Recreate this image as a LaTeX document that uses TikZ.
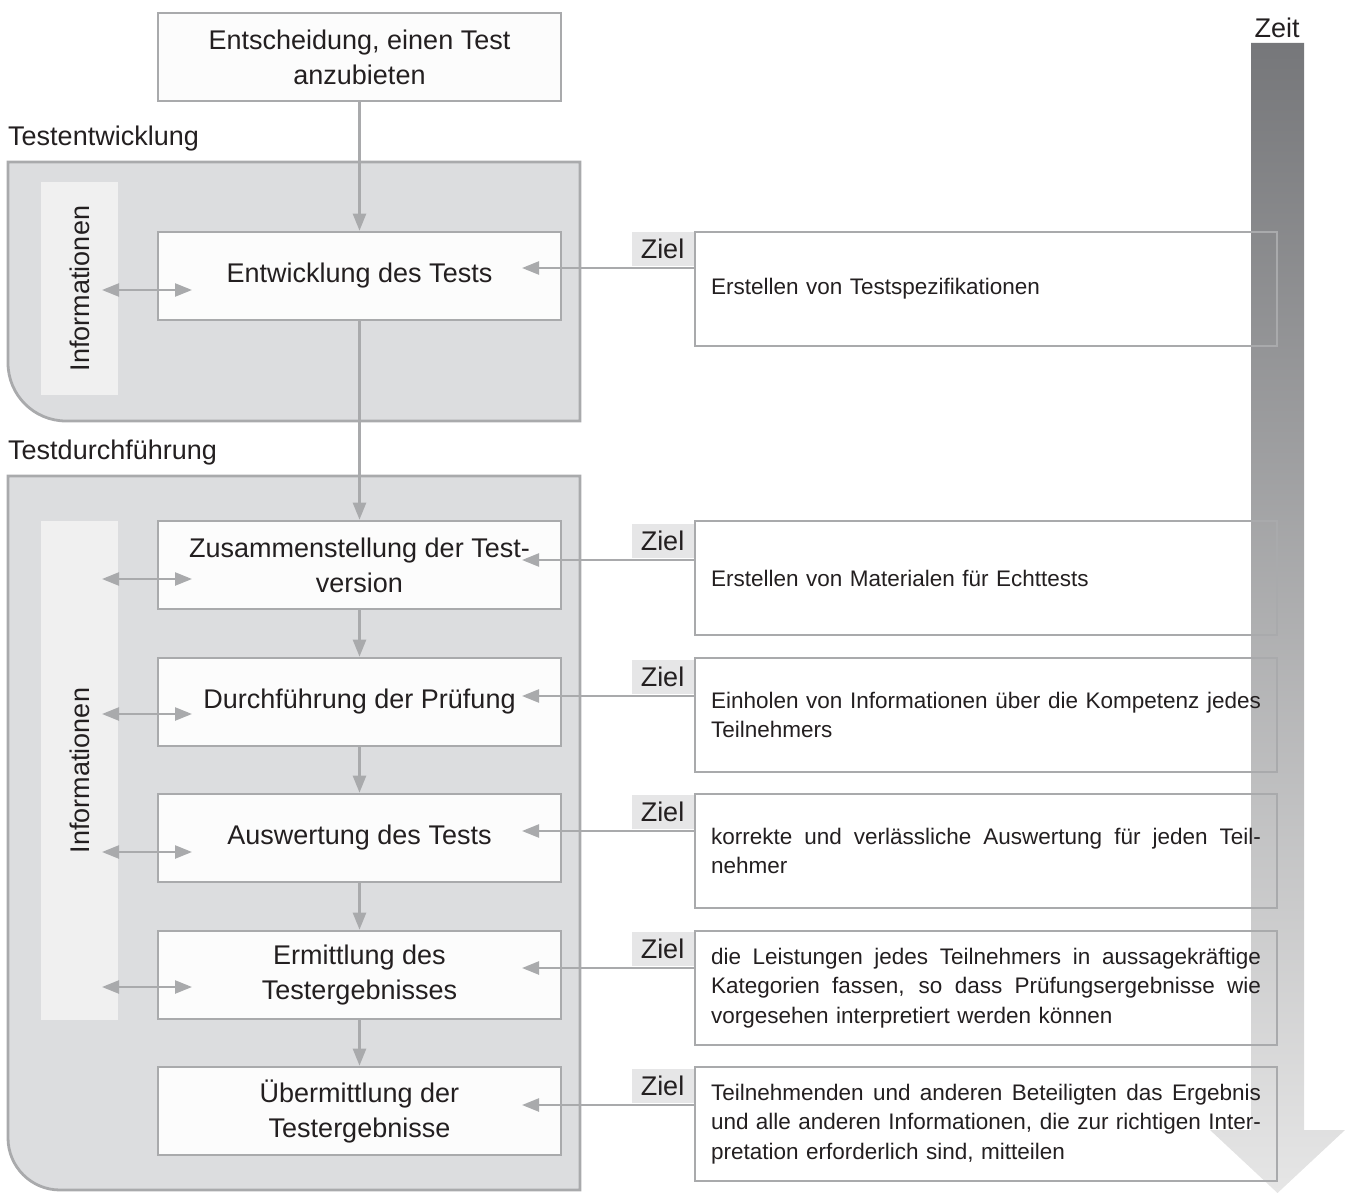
\documentclass[tikz,border=0pt]{standalone}
\usepackage{fontspec}
\setmainfont{Liberation Sans}
\usetikzlibrary{arrows.meta}
\definecolor{grpfill}{HTML}{DCDDDF}
\definecolor{lgray}{HTML}{A9AAAC}
\definecolor{infofill}{HTML}{F0F0F0}
\definecolor{boxfill}{HTML}{FCFCFC}
\definecolor{zielfill}{HTML}{E6E6E7}
\definecolor{txt}{HTML}{231F20}
\definecolor{timetop}{HTML}{76777A}
\definecolor{timebot}{HTML}{E6E6E6}
\newcommand\jl[1]{\leavevmode\hbox to 550pt{\spaceskip=0.278em plus 2em minus 0.08em\relax #1}}
\begin{document}
\begin{tikzpicture}[x=1pt,y=-1pt,
  every node/.style={text=txt},
  grpbox/.style={draw=lgray, fill=grpfill, line width=2.8pt},
  infobar/.style={fill=infofill, rotate=90, inner sep=0pt, font=\fontsize{27}{35}\selectfont},
  mainbox/.style={draw=lgray, fill=boxfill, line width=2.6pt, minimum width=403pt, minimum height=88pt, inner sep=0pt, align=center, font=\fontsize{27}{35}\selectfont},
  goalbox/.style={draw=lgray, line width=2.6pt, text width=550pt, inner xsep=16pt, inner ysep=0pt, minimum height=114pt, align=left, font=\fontsize{22.5}{29.5}\selectfont},
  zielbox/.style={fill=zielfill, minimum width=62pt, minimum height=34pt, inner sep=0pt, anchor=south east, font=\fontsize{27}{35}\selectfont},
  lbl/.style={anchor=west, inner sep=0pt, font=\fontsize{27}{35}\selectfont},
  arr/.style={draw=lgray, line width=2.4pt, -{Triangle[length=17pt,width=13pt]}},
  darr/.style={draw=lgray, line width=2.4pt, {Triangle[length=17pt,width=13pt]}-{Triangle[length=17pt,width=13pt]}}
]
\useasboundingbox (0,0) rectangle (1347,1193);

% groups
\draw[grpbox] (8,162) -- (580,162) -- (580,421) -- (66,421) arc[start angle=270,end angle=180,radius=58pt] -- cycle;
\draw[grpbox] (8,476) -- (580,476) -- (580,1190) -- (60,1190) arc[start angle=270,end angle=180,radius=52pt] -- cycle;
\node[lbl] (lab1) at (8,139) {Testentwicklung};
\node[lbl] (lab2) at (8,453) {Testdurchführung};

% info bars
\node[infobar, minimum width=213pt, minimum height=77pt] (i1) at (79.5,288.5) {Informationen};
\node[infobar, minimum width=499pt, minimum height=77pt] (i2) at (79.5,770.5) {Informationen};

% time arrow
\shade[top color=timetop, bottom color=timebot] (1251,43) -- (1304,43) -- (1304,1130) -- (1345,1130) -- (1277.5,1193) -- (1210,1130) -- (1251,1130) -- cycle;
\node[inner sep=0pt, font=\fontsize{27}{35}\selectfont] (zeit) at (1277,28) {Zeit};

% main boxes
\node[mainbox] (top) at (359.5,57) {Entscheidung, einen Test\\anzubieten};
\node[mainbox] (m1) at (359.5,276) {Entwicklung des Tests};
\node[mainbox] (m2) at (359.5,565) {Zusammenstellung der Test-\\version};
\node[mainbox] (m3) at (359.5,702) {Durchführung der Prüfung};
\node[mainbox] (m4) at (359.5,838) {Auswertung des Tests};
\node[mainbox] (m5) at (359.5,975) {Ermittlung des\\Testergebnisses};
\node[mainbox] (m6) at (359.5,1111) {Übermittlung der\\Testergebnisse};

% goal boxes
\node[goalbox] (g1) at (986,289) {Erstellen von Testspezifikationen};
\node[goalbox] (g2) at (986,578) {Erstellen von Materialen für Echttests};
\node[goalbox] (g3) at (986,715) {\jl{Einholen von Informationen über die Kompetenz jedes}\\Teilnehmers};
\node[goalbox] (g4) at (986,851) {\jl{korrekte und verlässliche Auswertung für jeden Teil-}\\nehmer};
\node[goalbox] (g5) at (986,988) {\jl{die Leistungen jedes Teilnehmers in aussagekräftige}\\\jl{Kategorien fassen, so dass Prüfungsergebnisse wie}\\vorgesehen interpretiert werden können};
\node[goalbox] (g6) at (986,1124) {\jl{Teilnehmenden und anderen Beteiligten das Ergebnis}\\\jl{und alle anderen Informationen, die zur richtigen Inter-}\\pretation erforderlich sind, mitteilen};

% vertical arrows
\draw[arr] (top.south) -- (m1.north);
\draw[arr] (m1.south) -- (m2.north);
\draw[arr] (m2.south) -- (m3.north);
\draw[arr] (m3.south) -- (m4.north);
\draw[arr] (m4.south) -- (m5.north);
\draw[arr] (m5.south) -- (m6.north);

% information arrows
\coordinate (il1) at (102,290); \coordinate (ir1) at (192,290);
\coordinate (il2) at (102,579); \coordinate (ir2) at (192,579);
\coordinate (il3) at (102,714); \coordinate (ir3) at (192,714);
\coordinate (il4) at (102,852); \coordinate (ir4) at (192,852);
\coordinate (il5) at (102,987); \coordinate (ir5) at (192,987);
\foreach \k in {1,...,5} {\draw[darr] (il\k) -- (ir\k);}

% goal arrows
\coordinate (t1) at (522,268);
\coordinate (t2) at (522,560);
\coordinate (t3) at (522,696);
\coordinate (t4) at (522,831);
\coordinate (t5) at (522,968);
\coordinate (t6) at (522,1105);
\foreach \k in {1,...,6} {
  \draw[arr] (g\k.west |- t\k) -- (t\k);
  \node[zielbox] (z\k) at ([yshift=1.5pt]g\k.west |- t\k) {Ziel};
}
\end{tikzpicture}
\end{document}
